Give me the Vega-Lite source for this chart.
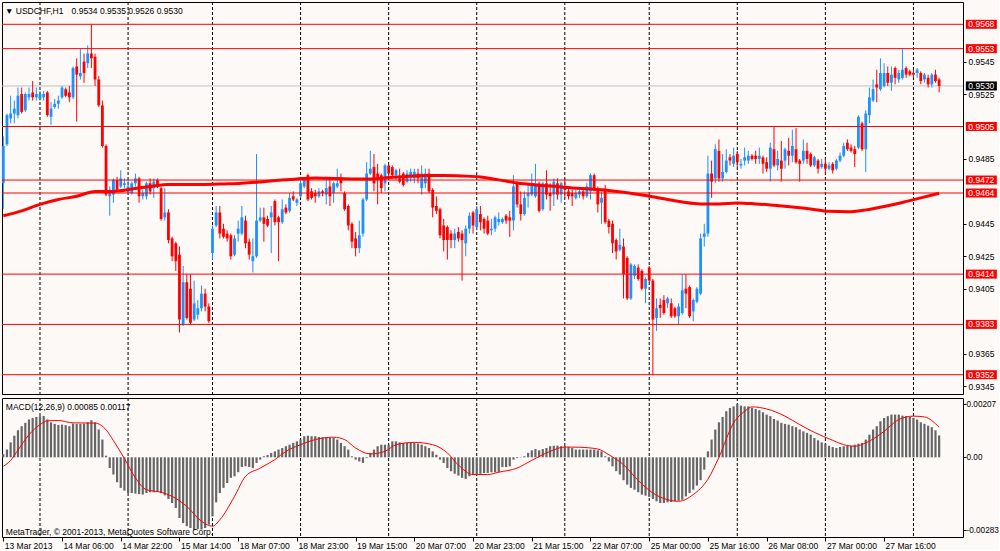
{
"$schema": "https://vega.github.io/schema/vega-lite/v6.json",
"background": "#fcf9f7",
"padding": {"left": -4, "top": 1, "right": 0, "bottom": 0},
"spacing": 2,
"resolve": {"scale": {"x": "independent", "y": "independent"}},
"config": {
  "view": {"stroke": "#000000", "strokeWidth": 1},
  "font": "Liberation Sans",
  "scale": {"continuousPadding": 0},
  "axis": {"domain": false, "grid": false, "labelFont": "Liberation Sans", "labelFontSize": 8.5, "labelColor": "#000000", "tickColor": "#000000", "tickSize": 3, "title": null}
},
"datasets": {
"c": [
{"i":0,"o":0.9470,"h":0.9499,"l":0.9454,"c":0.9493,"m":0.00012},
{"i":1,"o":0.9494,"h":0.9513,"l":0.9493,"c":0.9512,"m":0.00030},
{"i":2,"o":0.9510,"h":0.9524,"l":0.9507,"c":0.9513,"m":0.00058},
{"i":3,"o":0.9513,"h":0.9521,"l":0.9507,"c":0.9516,"m":0.00084},
{"i":4,"o":0.9512,"h":0.9529,"l":0.9510,"c":0.9524,"m":0.00105},
{"i":5,"o":0.9525,"h":0.9529,"l":0.9513,"c":0.9514,"m":0.00121},
{"i":6,"o":0.9515,"h":0.9526,"l":0.9514,"c":0.9525,"m":0.00134},
{"i":7,"o":0.9523,"h":0.9529,"l":0.9521,"c":0.9525,"m":0.00147},
{"i":8,"o":0.9526,"h":0.9533,"l":0.9521,"c":0.9523,"m":0.00153},
{"i":9,"o":0.9523,"h":0.9529,"l":0.9521,"c":0.9525,"m":0.00157},
{"i":10,"o":0.9522,"h":0.9527,"l":0.9521,"c":0.9525,"m":0.00160},
{"i":11,"o":0.9523,"h":0.9527,"l":0.9521,"c":0.9525,"m":0.00161},
{"i":12,"o":0.9526,"h":0.9527,"l":0.9511,"c":0.9512,"m":0.00147},
{"i":13,"o":0.9511,"h":0.9520,"l":0.9506,"c":0.9516,"m":0.00136},
{"i":14,"o":0.9517,"h":0.9522,"l":0.9516,"c":0.9519,"m":0.00130},
{"i":15,"o":0.9519,"h":0.9524,"l":0.9516,"c":0.9521,"m":0.00126},
{"i":16,"o":0.9523,"h":0.9530,"l":0.9522,"c":0.9529,"m":0.00127},
{"i":17,"o":0.9528,"h":0.9529,"l":0.9523,"c":0.9524,"m":0.00125},
{"i":18,"o":0.9526,"h":0.9530,"l":0.9520,"c":0.9523,"m":0.00121},
{"i":19,"o":0.9523,"h":0.9542,"l":0.9522,"c":0.9541,"m":0.00131},
{"i":20,"o":0.9542,"h":0.9547,"l":0.9508,"c":0.9537,"m":0.00130},
{"i":21,"o":0.9536,"h":0.9553,"l":0.9534,"c":0.9538,"m":0.00130},
{"i":22,"o":0.9545,"h":0.9550,"l":0.9532,"c":0.9538,"m":0.00131},
{"i":23,"o":0.9544,"h":0.9555,"l":0.9541,"c":0.9550,"m":0.00136},
{"i":24,"o":0.9550,"h":0.9568,"l":0.9541,"c":0.9547,"m":0.00144},
{"i":25,"o":0.9548,"h":0.9550,"l":0.9530,"c":0.9534,"m":0.00136},
{"i":26,"o":0.9534,"h":0.9536,"l":0.9517,"c":0.9518,"m":0.00108},
{"i":27,"o":0.9518,"h":0.9521,"l":0.9492,"c":0.9493,"m":0.00069},
{"i":28,"o":0.9493,"h":0.9494,"l":0.9462,"c":0.9463,"m":0.00006},
{"i":29,"o":0.9462,"h":0.9468,"l":0.9450,"c":0.9465,"m":-0.00042},
{"i":30,"o":0.9463,"h":0.9473,"l":0.9458,"c":0.9472,"m":-0.00067},
{"i":31,"o":0.9472,"h":0.9474,"l":0.9465,"c":0.9466,"m":-0.00097},
{"i":32,"o":0.9468,"h":0.9478,"l":0.9467,"c":0.9473,"m":-0.00119},
{"i":33,"o":0.9469,"h":0.9473,"l":0.9467,"c":0.9470,"m":-0.00130},
{"i":34,"o":0.9464,"h":0.9473,"l":0.9463,"c":0.9468,"m":-0.00139},
{"i":35,"o":0.9464,"h":0.9471,"l":0.9463,"c":0.9470,"m":-0.00139},
{"i":36,"o":0.9470,"h":0.9476,"l":0.9468,"c":0.9473,"m":-0.00141},
{"i":37,"o":0.9473,"h":0.9474,"l":0.9458,"c":0.9462,"m":-0.00143},
{"i":38,"o":0.9462,"h":0.9466,"l":0.9460,"c":0.9464,"m":-0.00145},
{"i":39,"o":0.9462,"h":0.9471,"l":0.9460,"c":0.9470,"m":-0.00139},
{"i":40,"o":0.9470,"h":0.9473,"l":0.9463,"c":0.9465,"m":-0.00136},
{"i":41,"o":0.9467,"h":0.9473,"l":0.9461,"c":0.9471,"m":-0.00136},
{"i":42,"o":0.9472,"h":0.9473,"l":0.9467,"c":0.9468,"m":-0.00135},
{"i":43,"o":0.9467,"h":0.9468,"l":0.9447,"c":0.9448,"m":-0.00139},
{"i":44,"o":0.9449,"h":0.9467,"l":0.9447,"c":0.9452,"m":-0.00148},
{"i":45,"o":0.9452,"h":0.9454,"l":0.9433,"c":0.9435,"m":-0.00162},
{"i":46,"o":0.9436,"h":0.9437,"l":0.9422,"c":0.9425,"m":-0.00178},
{"i":47,"o":0.9433,"h":0.9434,"l":0.9416,"c":0.9422,"m":-0.00197},
{"i":48,"o":0.9426,"h":0.9431,"l":0.9378,"c":0.9386,"m":-0.00236},
{"i":49,"o":0.9383,"h":0.9419,"l":0.9382,"c":0.9409,"m":-0.00256},
{"i":50,"o":0.9409,"h":0.9414,"l":0.9386,"c":0.9387,"m":-0.00268},
{"i":51,"o":0.9405,"h":0.9414,"l":0.9383,"c":0.9384,"m":-0.00275},
{"i":52,"o":0.9386,"h":0.9410,"l":0.9385,"c":0.9396,"m":-0.00283},
{"i":53,"o":0.9389,"h":0.9398,"l":0.9386,"c":0.9393,"m":-0.00279},
{"i":54,"o":0.9393,"h":0.9407,"l":0.9391,"c":0.9402,"m":-0.00281},
{"i":55,"o":0.9402,"h":0.9405,"l":0.9391,"c":0.9394,"m":-0.00275},
{"i":56,"o":0.9394,"h":0.9396,"l":0.9384,"c":0.9385,"m":-0.00262},
{"i":57,"o":0.9427,"h":0.9444,"l":0.9423,"c":0.9442,"m":-0.00230},
{"i":58,"o":0.9444,"h":0.9456,"l":0.9443,"c":0.9452,"m":-0.00175},
{"i":59,"o":0.9452,"h":0.9456,"l":0.9436,"c":0.9439,"m":-0.00139},
{"i":60,"o":0.9442,"h":0.9445,"l":0.9436,"c":0.9437,"m":-0.00119},
{"i":61,"o":0.9439,"h":0.9441,"l":0.9434,"c":0.9436,"m":-0.00100},
{"i":62,"o":0.9438,"h":0.9439,"l":0.9423,"c":0.9425,"m":-0.00080},
{"i":63,"o":0.9426,"h":0.9438,"l":0.9425,"c":0.9436,"m":-0.00074},
{"i":64,"o":0.9439,"h":0.9447,"l":0.9434,"c":0.9442,"m":-0.00058},
{"i":65,"o":0.9439,"h":0.9456,"l":0.9438,"c":0.9449,"m":-0.00038},
{"i":66,"o":0.9447,"h":0.9450,"l":0.9430,"c":0.9433,"m":-0.00035},
{"i":67,"o":0.9434,"h":0.9436,"l":0.9423,"c":0.9426,"m":-0.00038},
{"i":68,"o":0.9422,"h":0.9436,"l":0.9415,"c":0.9425,"m":-0.00042},
{"i":69,"o":0.9425,"h":0.9488,"l":0.9424,"c":0.9447,"m":-0.00022},
{"i":70,"o":0.9447,"h":0.9455,"l":0.9446,"c":0.9449,"m":-0.00009},
{"i":71,"o":0.9449,"h":0.9455,"l":0.9434,"c":0.9445,"m":0.00004},
{"i":72,"o":0.9448,"h":0.9450,"l":0.9443,"c":0.9444,"m":0.00009},
{"i":73,"o":0.9449,"h":0.9456,"l":0.9427,"c":0.9452,"m":0.00017},
{"i":74,"o":0.9459,"h":0.9460,"l":0.9444,"c":0.9446,"m":0.00023},
{"i":75,"o":0.9449,"h":0.9450,"l":0.9422,"c":0.9446,"m":0.00030},
{"i":76,"o":0.9446,"h":0.9460,"l":0.9445,"c":0.9454,"m":0.00036},
{"i":77,"o":0.9455,"h":0.9457,"l":0.9451,"c":0.9452,"m":0.00043},
{"i":78,"o":0.9453,"h":0.9464,"l":0.9452,"c":0.9461,"m":0.00049},
{"i":79,"o":0.9462,"h":0.9465,"l":0.9459,"c":0.9460,"m":0.00056},
{"i":80,"o":0.9458,"h":0.9461,"l":0.9456,"c":0.9460,"m":0.00062},
{"i":81,"o":0.9462,"h":0.9472,"l":0.9461,"c":0.9470,"m":0.00069},
{"i":82,"o":0.9468,"h":0.9474,"l":0.9467,"c":0.9473,"m":0.00082},
{"i":83,"o":0.9475,"h":0.9476,"l":0.9459,"c":0.9460,"m":0.00084},
{"i":84,"o":0.9465,"h":0.9467,"l":0.9460,"c":0.9461,"m":0.00082},
{"i":85,"o":0.9464,"h":0.9466,"l":0.9458,"c":0.9462,"m":0.00082},
{"i":86,"o":0.9462,"h":0.9467,"l":0.9461,"c":0.9465,"m":0.00079},
{"i":87,"o":0.9465,"h":0.9466,"l":0.9462,"c":0.9464,"m":0.00078},
{"i":88,"o":0.9463,"h":0.9473,"l":0.9457,"c":0.9467,"m":0.00078},
{"i":89,"o":0.9468,"h":0.9473,"l":0.9456,"c":0.9462,"m":0.00075},
{"i":90,"o":0.9464,"h":0.9471,"l":0.9458,"c":0.9470,"m":0.00075},
{"i":91,"o":0.9468,"h":0.9479,"l":0.9467,"c":0.9470,"m":0.00069},
{"i":92,"o":0.9473,"h":0.9476,"l":0.9465,"c":0.9470,"m":0.00056},
{"i":93,"o":0.9464,"h":0.9465,"l":0.9453,"c":0.9454,"m":0.00043},
{"i":94,"o":0.9456,"h":0.9457,"l":0.9441,"c":0.9444,"m":0.00030},
{"i":95,"o":0.9445,"h":0.9446,"l":0.9430,"c":0.9434,"m":0.00004},
{"i":96,"o":0.9436,"h":0.9440,"l":0.9425,"c":0.9430,"m":-0.00009},
{"i":97,"o":0.9430,"h":0.9447,"l":0.9427,"c":0.9438,"m":-0.00016},
{"i":98,"o":0.9439,"h":0.9461,"l":0.9437,"c":0.9460,"m":-0.00022},
{"i":99,"o":0.9460,"h":0.9483,"l":0.9459,"c":0.9476,"m":-0.00003},
{"i":100,"o":0.9476,"h":0.9490,"l":0.9475,"c":0.9479,"m":0.00017},
{"i":101,"o":0.9480,"h":0.9488,"l":0.9465,"c":0.9470,"m":0.00030},
{"i":102,"o":0.9476,"h":0.9482,"l":0.9457,"c":0.9473,"m":0.00043},
{"i":103,"o":0.9475,"h":0.9476,"l":0.9464,"c":0.9467,"m":0.00049},
{"i":104,"o":0.9470,"h":0.9482,"l":0.9465,"c":0.9481,"m":0.00049},
{"i":105,"o":0.9481,"h":0.9482,"l":0.9473,"c":0.9476,"m":0.00049},
{"i":106,"o":0.9480,"h":0.9481,"l":0.9473,"c":0.9475,"m":0.00062},
{"i":107,"o":0.9475,"h":0.9479,"l":0.9472,"c":0.9478,"m":0.00062},
{"i":108,"o":0.9473,"h":0.9479,"l":0.9470,"c":0.9471,"m":0.00058},
{"i":109,"o":0.9476,"h":0.9477,"l":0.9468,"c":0.9469,"m":0.00056},
{"i":110,"o":0.9471,"h":0.9478,"l":0.9470,"c":0.9476,"m":0.00056},
{"i":111,"o":0.9473,"h":0.9479,"l":0.9471,"c":0.9477,"m":0.00056},
{"i":112,"o":0.9473,"h":0.9479,"l":0.9470,"c":0.9477,"m":0.00056},
{"i":113,"o":0.9476,"h":0.9479,"l":0.9470,"c":0.9473,"m":0.00053},
{"i":114,"o":0.9467,"h":0.9481,"l":0.9463,"c":0.9476,"m":0.00049},
{"i":115,"o":0.9470,"h":0.9479,"l":0.9467,"c":0.9476,"m":0.00043},
{"i":116,"o":0.9476,"h":0.9479,"l":0.9464,"c":0.9465,"m":0.00036},
{"i":117,"o":0.9466,"h":0.9467,"l":0.9449,"c":0.9455,"m":0.00023},
{"i":118,"o":0.9456,"h":0.9462,"l":0.9451,"c":0.9453,"m":0.00010},
{"i":119,"o":0.9454,"h":0.9455,"l":0.9436,"c":0.9438,"m":-0.00009},
{"i":120,"o":0.9444,"h":0.9448,"l":0.9428,"c":0.9435,"m":-0.00022},
{"i":121,"o":0.9443,"h":0.9444,"l":0.9423,"c":0.9435,"m":-0.00042},
{"i":122,"o":0.9439,"h":0.9441,"l":0.9430,"c":0.9435,"m":-0.00054},
{"i":123,"o":0.9435,"h":0.9442,"l":0.9430,"c":0.9439,"m":-0.00064},
{"i":124,"o":0.9440,"h":0.9443,"l":0.9434,"c":0.9436,"m":-0.00071},
{"i":125,"o":0.9439,"h":0.9441,"l":0.9410,"c":0.9435,"m":-0.00080},
{"i":126,"o":0.9433,"h":0.9444,"l":0.9425,"c":0.9442,"m":-0.00084},
{"i":127,"o":0.9442,"h":0.9452,"l":0.9439,"c":0.9450,"m":-0.00074},
{"i":128,"o":0.9452,"h":0.9453,"l":0.9439,"c":0.9444,"m":-0.00067},
{"i":129,"o":0.9443,"h":0.9456,"l":0.9441,"c":0.9454,"m":-0.00065},
{"i":130,"o":0.9451,"h":0.9456,"l":0.9441,"c":0.9446,"m":-0.00064},
{"i":131,"o":0.9448,"h":0.9449,"l":0.9439,"c":0.9442,"m":-0.00061},
{"i":132,"o":0.9447,"h":0.9450,"l":0.9438,"c":0.9439,"m":-0.00061},
{"i":133,"o":0.9441,"h":0.9448,"l":0.9438,"c":0.9442,"m":-0.00058},
{"i":134,"o":0.9442,"h":0.9450,"l":0.9440,"c":0.9449,"m":-0.00058},
{"i":135,"o":0.9446,"h":0.9452,"l":0.9444,"c":0.9448,"m":-0.00057},
{"i":136,"o":0.9446,"h":0.9449,"l":0.9445,"c":0.9448,"m":-0.00038},
{"i":137,"o":0.9450,"h":0.9451,"l":0.9445,"c":0.9447,"m":-0.00038},
{"i":138,"o":0.9449,"h":0.9453,"l":0.9437,"c":0.9447,"m":-0.00035},
{"i":139,"o":0.9447,"h":0.9475,"l":0.9441,"c":0.9468,"m":-0.00009},
{"i":140,"o":0.9470,"h":0.9471,"l":0.9455,"c":0.9457,"m":-0.00003},
{"i":141,"o":0.9457,"h":0.9465,"l":0.9447,"c":0.9451,"m":0.00001},
{"i":142,"o":0.9451,"h":0.9465,"l":0.9450,"c":0.9461,"m":0.00004},
{"i":143,"o":0.9462,"h":0.9470,"l":0.9455,"c":0.9464,"m":0.00017},
{"i":144,"o":0.9463,"h":0.9476,"l":0.9462,"c":0.9470,"m":0.00027},
{"i":145,"o":0.9462,"h":0.9482,"l":0.9461,"c":0.9470,"m":0.00032},
{"i":146,"o":0.9470,"h":0.9471,"l":0.9452,"c":0.9453,"m":0.00027},
{"i":147,"o":0.9454,"h":0.9471,"l":0.9453,"c":0.9470,"m":0.00032},
{"i":148,"o":0.9470,"h":0.9478,"l":0.9460,"c":0.9463,"m":0.00036},
{"i":149,"o":0.9464,"h":0.9470,"l":0.9453,"c":0.9462,"m":0.00043},
{"i":150,"o":0.9463,"h":0.9473,"l":0.9456,"c":0.9471,"m":0.00045},
{"i":151,"o":0.9470,"h":0.9473,"l":0.9460,"c":0.9463,"m":0.00045},
{"i":152,"o":0.9463,"h":0.9471,"l":0.9458,"c":0.9470,"m":0.00043},
{"i":153,"o":0.9468,"h":0.9473,"l":0.9461,"c":0.9466,"m":0.00043},
{"i":154,"o":0.9465,"h":0.9468,"l":0.9460,"c":0.9462,"m":0.00040},
{"i":155,"o":0.9464,"h":0.9466,"l":0.9456,"c":0.9462,"m":0.00036},
{"i":156,"o":0.9461,"h":0.9466,"l":0.9460,"c":0.9464,"m":0.00030},
{"i":157,"o":0.9463,"h":0.9467,"l":0.9461,"c":0.9465,"m":0.00030},
{"i":158,"o":0.9465,"h":0.9467,"l":0.9460,"c":0.9462,"m":0.00030},
{"i":159,"o":0.9462,"h":0.9470,"l":0.9461,"c":0.9468,"m":0.00030},
{"i":160,"o":0.9465,"h":0.9476,"l":0.9460,"c":0.9475,"m":0.00030},
{"i":161,"o":0.9475,"h":0.9476,"l":0.9465,"c":0.9467,"m":0.00030},
{"i":162,"o":0.9467,"h":0.9468,"l":0.9452,"c":0.9457,"m":0.00027},
{"i":163,"o":0.9458,"h":0.9465,"l":0.9445,"c":0.9461,"m":0.00023},
{"i":164,"o":0.9466,"h":0.9469,"l":0.9445,"c":0.9446,"m":0.00004},
{"i":165,"o":0.9447,"h":0.9448,"l":0.9439,"c":0.9443,"m":-0.00016},
{"i":166,"o":0.9445,"h":0.9447,"l":0.9427,"c":0.9433,"m":-0.00035},
{"i":167,"o":0.9435,"h":0.9436,"l":0.9423,"c":0.9428,"m":-0.00054},
{"i":168,"o":0.9429,"h":0.9442,"l":0.9428,"c":0.9432,"m":-0.00067},
{"i":169,"o":0.9431,"h":0.9436,"l":0.9399,"c":0.9414,"m":-0.00089},
{"i":170,"o":0.9424,"h":0.9425,"l":0.9398,"c":0.9399,"m":-0.00106},
{"i":171,"o":0.9399,"h":0.9421,"l":0.9398,"c":0.9420,"m":-0.00119},
{"i":172,"o":0.9413,"h":0.9420,"l":0.9411,"c":0.9419,"m":-0.00126},
{"i":173,"o":0.9418,"h":0.9420,"l":0.9410,"c":0.9411,"m":-0.00136},
{"i":174,"o":0.9416,"h":0.9417,"l":0.9404,"c":0.9405,"m":-0.00145},
{"i":175,"o":0.9405,"h":0.9412,"l":0.9396,"c":0.9411,"m":-0.00149},
{"i":176,"o":0.9418,"h":0.9419,"l":0.9409,"c":0.9410,"m":-0.00154},
{"i":177,"o":0.9410,"h":0.9411,"l":0.9352,"c":0.9386,"m":-0.00162},
{"i":178,"o":0.9387,"h":0.9399,"l":0.9379,"c":0.9393,"m":-0.00171},
{"i":179,"o":0.9395,"h":0.9399,"l":0.9387,"c":0.9393,"m":-0.00178},
{"i":180,"o":0.9398,"h":0.9401,"l":0.9389,"c":0.9390,"m":-0.00178},
{"i":181,"o":0.9396,"h":0.9400,"l":0.9393,"c":0.9399,"m":-0.00175},
{"i":182,"o":0.9396,"h":0.9399,"l":0.9387,"c":0.9388,"m":-0.00174},
{"i":183,"o":0.9393,"h":0.9394,"l":0.9387,"c":0.9388,"m":-0.00171},
{"i":184,"o":0.9388,"h":0.9396,"l":0.9383,"c":0.9394,"m":-0.00169},
{"i":185,"o":0.9390,"h":0.9414,"l":0.9389,"c":0.9404,"m":-0.00165},
{"i":186,"o":0.9405,"h":0.9414,"l":0.9393,"c":0.9402,"m":-0.00152},
{"i":187,"o":0.9406,"h":0.9407,"l":0.9387,"c":0.9388,"m":-0.00139},
{"i":188,"o":0.9391,"h":0.9399,"l":0.9385,"c":0.9398,"m":-0.00126},
{"i":189,"o":0.9397,"h":0.9406,"l":0.9396,"c":0.9405,"m":-0.00110},
{"i":190,"o":0.9402,"h":0.9439,"l":0.9401,"c":0.9436,"m":-0.00089},
{"i":191,"o":0.9437,"h":0.9445,"l":0.9431,"c":0.9439,"m":-0.00048},
{"i":192,"o":0.9439,"h":0.9487,"l":0.9437,"c":0.9476,"m":0.00023},
{"i":193,"o":0.9476,"h":0.9484,"l":0.9461,"c":0.9471,"m":0.00069},
{"i":194,"o":0.9473,"h":0.9494,"l":0.9470,"c":0.9491,"m":0.00108},
{"i":195,"o":0.9490,"h":0.9497,"l":0.9471,"c":0.9473,"m":0.00136},
{"i":196,"o":0.9473,"h":0.9488,"l":0.9471,"c":0.9477,"m":0.00157},
{"i":197,"o":0.9477,"h":0.9491,"l":0.9476,"c":0.9484,"m":0.00179},
{"i":198,"o":0.9486,"h":0.9488,"l":0.9481,"c":0.9484,"m":0.00192},
{"i":199,"o":0.9482,"h":0.9492,"l":0.9480,"c":0.9487,"m":0.00198},
{"i":200,"o":0.9488,"h":0.9490,"l":0.9480,"c":0.9483,"m":0.00207},
{"i":201,"o":0.9481,"h":0.9485,"l":0.9479,"c":0.9482,"m":0.00201},
{"i":202,"o":0.9484,"h":0.9492,"l":0.9481,"c":0.9486,"m":0.00198},
{"i":203,"o":0.9484,"h":0.9490,"l":0.9482,"c":0.9487,"m":0.00198},
{"i":204,"o":0.9487,"h":0.9488,"l":0.9484,"c":0.9485,"m":0.00192},
{"i":205,"o":0.9487,"h":0.9490,"l":0.9482,"c":0.9485,"m":0.00188},
{"i":206,"o":0.9485,"h":0.9492,"l":0.9482,"c":0.9487,"m":0.00183},
{"i":207,"o":0.9486,"h":0.9487,"l":0.9476,"c":0.9482,"m":0.00175},
{"i":208,"o":0.9483,"h":0.9486,"l":0.9477,"c":0.9479,"m":0.00166},
{"i":209,"o":0.9479,"h":0.9495,"l":0.9471,"c":0.9492,"m":0.00160},
{"i":210,"o":0.9491,"h":0.9505,"l":0.9480,"c":0.9481,"m":0.00149},
{"i":211,"o":0.9481,"h":0.9490,"l":0.9478,"c":0.9485,"m":0.00143},
{"i":212,"o":0.9484,"h":0.9496,"l":0.9471,"c":0.9479,"m":0.00134},
{"i":213,"o":0.9484,"h":0.9492,"l":0.9479,"c":0.9491,"m":0.00130},
{"i":214,"o":0.9490,"h":0.9498,"l":0.9481,"c":0.9487,"m":0.00127},
{"i":215,"o":0.9487,"h":0.9503,"l":0.9483,"c":0.9493,"m":0.00121},
{"i":216,"o":0.9491,"h":0.9504,"l":0.9482,"c":0.9483,"m":0.00117},
{"i":217,"o":0.9484,"h":0.9485,"l":0.9471,"c":0.9482,"m":0.00108},
{"i":218,"o":0.9484,"h":0.9497,"l":0.9482,"c":0.9490,"m":0.00101},
{"i":219,"o":0.9490,"h":0.9495,"l":0.9482,"c":0.9485,"m":0.00095},
{"i":220,"o":0.9488,"h":0.9489,"l":0.9480,"c":0.9481,"m":0.00088},
{"i":221,"o":0.9481,"h":0.9487,"l":0.9480,"c":0.9486,"m":0.00075},
{"i":222,"o":0.9484,"h":0.9485,"l":0.9476,"c":0.9479,"m":0.00066},
{"i":223,"o":0.9480,"h":0.9485,"l":0.9479,"c":0.9482,"m":0.00058},
{"i":224,"o":0.9482,"h":0.9485,"l":0.9476,"c":0.9479,"m":0.00053},
{"i":225,"o":0.9479,"h":0.9483,"l":0.9478,"c":0.9481,"m":0.00045},
{"i":226,"o":0.9482,"h":0.9483,"l":0.9476,"c":0.9478,"m":0.00040},
{"i":227,"o":0.9479,"h":0.9485,"l":0.9478,"c":0.9484,"m":0.00036},
{"i":228,"o":0.9484,"h":0.9489,"l":0.9483,"c":0.9487,"m":0.00040},
{"i":229,"o":0.9487,"h":0.9495,"l":0.9486,"c":0.9493,"m":0.00043},
{"i":230,"o":0.9495,"h":0.9497,"l":0.9490,"c":0.9491,"m":0.00045},
{"i":231,"o":0.9492,"h":0.9494,"l":0.9489,"c":0.9490,"m":0.00045},
{"i":232,"o":0.9491,"h":0.9493,"l":0.9480,"c":0.9488,"m":0.00049},
{"i":233,"o":0.9492,"h":0.9512,"l":0.9491,"c":0.9511,"m":0.00053},
{"i":234,"o":0.9507,"h":0.9508,"l":0.9490,"c":0.9491,"m":0.00056},
{"i":235,"o":0.9491,"h":0.9515,"l":0.9477,"c":0.9513,"m":0.00069},
{"i":236,"o":0.9512,"h":0.9529,"l":0.9507,"c":0.9523,"m":0.00088},
{"i":237,"o":0.9521,"h":0.9534,"l":0.9520,"c":0.9528,"m":0.00108},
{"i":238,"o":0.9531,"h":0.9540,"l":0.9520,"c":0.9529,"m":0.00121},
{"i":239,"o":0.9528,"h":0.9547,"l":0.9527,"c":0.9538,"m":0.00140},
{"i":240,"o":0.9530,"h":0.9544,"l":0.9529,"c":0.9538,"m":0.00153},
{"i":241,"o":0.9538,"h":0.9542,"l":0.9530,"c":0.9532,"m":0.00160},
{"i":242,"o":0.9532,"h":0.9542,"l":0.9527,"c":0.9537,"m":0.00166},
{"i":243,"o":0.9541,"h":0.9542,"l":0.9531,"c":0.9535,"m":0.00166},
{"i":244,"o":0.9534,"h":0.9540,"l":0.9532,"c":0.9538,"m":0.00166},
{"i":245,"o":0.9535,"h":0.9553,"l":0.9534,"c":0.9540,"m":0.00162},
{"i":246,"o":0.9541,"h":0.9542,"l":0.9535,"c":0.9537,"m":0.00160},
{"i":247,"o":0.9539,"h":0.9540,"l":0.9536,"c":0.9537,"m":0.00157},
{"i":248,"o":0.9538,"h":0.9540,"l":0.9535,"c":0.9537,"m":0.00153},
{"i":249,"o":0.9538,"h":0.9541,"l":0.9535,"c":0.9540,"m":0.00147},
{"i":250,"o":0.9538,"h":0.9539,"l":0.9531,"c":0.9533,"m":0.00136},
{"i":251,"o":0.9534,"h":0.9538,"l":0.9532,"c":0.9537,"m":0.00130},
{"i":252,"o":0.9535,"h":0.9537,"l":0.9529,"c":0.9531,"m":0.00123},
{"i":253,"o":0.9531,"h":0.9538,"l":0.9529,"c":0.9537,"m":0.00117},
{"i":254,"o":0.9537,"h":0.9540,"l":0.9532,"c":0.9533,"m":0.00105},
{"i":255,"o":0.9534,"h":0.9535,"l":0.9526,"c":0.9530,"m":0.00085}
],
"ma": [
{"i":0,"v":0.9450},{"i":5,"v":0.9453},{"i":10,"v":0.9457},{"i":15,"v":0.9460},{"i":20,"v":0.9462},{"i":25,"v":0.9465},{"i":30,"v":0.9465},{"i":35,"v":0.94665},{"i":40,"v":0.9468},{"i":45,"v":0.94693},{"i":50,"v":0.94693},{"i":55,"v":0.94693},{"i":60,"v":0.94696},{"i":65,"v":0.9470},{"i":70,"v":0.94708},{"i":75,"v":0.94718},{"i":80,"v":0.94727},{"i":85,"v":0.94733},{"i":90,"v":0.9473},{"i":95,"v":0.94727},{"i":100,"v":0.94727},{"i":105,"v":0.94735},{"i":110,"v":0.94742},{"i":115,"v":0.94748},{"i":120,"v":0.94748},{"i":125,"v":0.94745},{"i":130,"v":0.94739},{"i":135,"v":0.94721},{"i":140,"v":0.94702},{"i":145,"v":0.9469},{"i":150,"v":0.94681},{"i":155,"v":0.94671},{"i":160,"v":0.94665},{"i":165,"v":0.94656},{"i":170,"v":0.94642},{"i":175,"v":0.94625},{"i":180,"v":0.94604},{"i":185,"v":0.94585},{"i":190,"v":0.94573},{"i":195,"v":0.94573},{"i":200,"v":0.94579},{"i":205,"v":0.94573},{"i":210,"v":0.94564},{"i":215,"v":0.94554},{"i":220,"v":0.94542},{"i":225,"v":0.94527},{"i":230,"v":0.94524},{"i":235,"v":0.94536},{"i":240,"v":0.94557},{"i":245,"v":0.94582},{"i":250,"v":0.9461},{"i":255,"v":0.94639}
],
"sig": [
{"i":0,"s":-0.00035},{"i":2,"s":-0.00012},{"i":4,"s":0.00028},{"i":7,"s":0.00088},{"i":10,"s":0.00127},{"i":12,"s":0.00142},{"i":15,"s":0.00143},{"i":19,"s":0.00134},{"i":25,"s":0.00133},{"i":28,"s":0.00107},{"i":30,"s":0.00065},{"i":33,"s":-0.00005},{"i":36,"s":-0.00080},{"i":39,"s":-0.00126},{"i":43,"s":-0.00136},{"i":46,"s":-0.00152},{"i":50,"s":-0.00191},{"i":54,"s":-0.00249},{"i":57,"s":-0.00268},{"i":59,"s":-0.00243},{"i":63,"s":-0.00152},{"i":66,"s":-0.00074},{"i":70,"s":-0.00042},{"i":74,"s":-0.00009},{"i":77,"s":0.00023},{"i":81,"s":0.00049},{"i":85,"s":0.00069},{"i":90,"s":0.00078},{"i":93,"s":0.00069},{"i":96,"s":0.00036},{"i":100,"s":0.00013},{"i":104,"s":0.00023},{"i":107,"s":0.00049},{"i":112,"s":0.00058},{"i":117,"s":0.00049},{"i":121,"s":0.00017},{"i":124,"s":-0.00030},{"i":128,"s":-0.00067},{"i":132,"s":-0.00067},{"i":135,"s":-0.00058},{"i":140,"s":-0.00042},{"i":144,"s":-0.00012},{"i":149,"s":0.00023},{"i":153,"s":0.00040},{"i":157,"s":0.00039},{"i":162,"s":0.00032},{"i":165,"s":0.00010},{"i":169,"s":-0.00029},{"i":173,"s":-0.00090},{"i":177,"s":-0.00139},{"i":181,"s":-0.00165},{"i":184,"s":-0.00171},{"i":188,"s":-0.00145},{"i":192,"s":-0.00085},{"i":195,"s":0.00000},{"i":199,"s":0.00134},{"i":202,"s":0.00179},{"i":204,"s":0.00196},{"i":208,"s":0.00188},{"i":213,"s":0.00160},{"i":217,"s":0.00127},{"i":221,"s":0.00097},{"i":226,"s":0.00066},{"i":229,"s":0.00049},{"i":232,"s":0.00043},{"i":235,"s":0.00056},{"i":240,"s":0.00101},{"i":244,"s":0.00147},{"i":248,"s":0.00160},{"i":251,"s":0.00157},{"i":255,"s":0.00117}
],
"lv": [
{"p":0.9568},{"p":0.9553},{"p":0.9505},{"p":0.9472},{"p":0.9464},{"p":0.9414},{"p":0.9383},{"p":0.9352}
],
"bid": [{"p":0.9530}],
"sep": [{"i":10},{"i":34},{"i":57},{"i":81},{"i":105},{"i":129},{"i":153},{"i":176},{"i":200},{"i":224},{"i":248}]
},
"vconcat": [
{
"width": 961,
"height": 392,
"layer": [
{
"data": {"name": "bid"},
"mark": {"type": "rule", "color": "#c0c0c0", "strokeWidth": 1},
"encoding": {
"y": {"field": "p", "type": "quantitative", "scale": {"domain": [0.93401, 0.958175], "nice": false, "zero": false},
"axis": {"orient": "right", "values": [0.9345,0.9365,0.9405,0.9425,0.9445,0.9485,0.9525,0.9545], "format": ".4f", "labelPadding": 2, "labelAlign": "left", "labelOverlap": false, "labelBound": false, "labelFlush": false}}
}
},
{
"data": {"name": "sep"},
"mark": {"type": "rule", "color": "#000000", "strokeWidth": 1, "strokeDash": [3, 2]},
"encoding": {
"x": {"field": "i", "type": "quantitative", "scale": {"domain": [-0.354, 261.5], "nice": false, "zero": false, "padding": 0}, "axis": null}
}
},
{
"data": {"name": "c"},
"mark": {"type": "rule", "strokeWidth": 1},
"encoding": {
"x": {"field": "i", "type": "quantitative"},
"y": {"field": "l", "type": "quantitative"},
"y2": {"field": "h"},
"color": {"condition": {"test": "datum.c >= datum.o", "value": "#1e90ff"}, "value": "#ff0000"}
}
},
{
"data": {"name": "c"},
"mark": {"type": "bar", "width": 2.8},
"encoding": {
"x": {"field": "i", "type": "quantitative"},
"y": {"field": "o", "type": "quantitative"},
"y2": {"field": "c"},
"color": {"condition": {"test": "datum.c >= datum.o", "value": "#1e90ff"}, "value": "#ff0000"}
}
},
{
"data": {"name": "lv"},
"mark": {"type": "rule", "color": "#ff0000", "strokeWidth": 1},
"encoding": {"y": {"field": "p", "type": "quantitative"}}
},
{
"data": {"name": "ma"},
"mark": {"type": "line", "color": "#ff0000", "strokeWidth": 3, "interpolate": "monotone"},
"encoding": {
"x": {"field": "i", "type": "quantitative"},
"y": {"field": "v", "type": "quantitative"}
}
},
{
"data": {"name": "lv"},
"mark": {"type": "point", "shape": "M-1,-0.29H1V0.29H-1Z", "filled": true, "size": 961, "opacity": 1, "color": "#ff0000", "strokeWidth": 0, "clip": false},
"encoding": {
"x": {"datum": 266.5},
"y": {"field": "p", "type": "quantitative"}
}
},
{
"data": {"name": "lv"},
"mark": {"type": "text", "color": "#ffffff", "font": "Liberation Sans", "fontSize": 8.5, "align": "center", "baseline": "middle", "clip": false},
"encoding": {
"x": {"datum": 266.5},
"y": {"field": "p", "type": "quantitative"},
"text": {"field": "p", "format": ".4f"}
}
},
{
"data": {"name": "bid"},
"mark": {"type": "point", "shape": "M-1,-0.29H1V0.29H-1Z", "filled": true, "size": 961, "opacity": 1, "color": "#000000", "strokeWidth": 0, "clip": false},
"encoding": {
"x": {"datum": 266.5},
"y": {"field": "p", "type": "quantitative"}
}
},
{
"data": {"name": "bid"},
"mark": {"type": "text", "color": "#ffffff", "font": "Liberation Sans", "fontSize": 8.5, "align": "center", "baseline": "middle", "clip": false},
"encoding": {
"x": {"datum": 266.5},
"y": {"field": "p", "type": "quantitative"},
"text": {"field": "p", "format": ".4f"}
}
},
{
"data": {"values": [{}]},
"mark": {"type": "text", "text": "▼ USDCHF,H1", "color": "#000000", "font": "Liberation Sans", "fontSize": 8.5, "align": "left", "baseline": "middle"},
"encoding": {
"x": {"datum": 0.46},
"y": {"datum": 0.95762}
}
},
{
"data": {"values": [{}]},
"mark": {"type": "text", "text": "0.9534 0.9535 0.9526 0.9530", "color": "#000000", "font": "Liberation Sans", "fontSize": 8.5, "align": "left", "baseline": "middle"},
"encoding": {
"x": {"datum": 18.6},
"y": {"datum": 0.95762}
}
}
]
},
{
"width": 961,
"height": 139,
"layer": [
{
"data": {"name": "sep"},
"mark": {"type": "rule", "color": "#000000", "strokeWidth": 1, "strokeDash": [3, 2]},
"encoding": {
"x": {"field": "i", "type": "quantitative", "scale": {"domain": [-0.354, 261.5], "nice": false, "zero": false, "padding": 0},
"axis": {"orient": "bottom", "values": [0,16,32,48,64,80,96,112,128,144,160,176,192,208,224,240], "labelExpr": "['13 Mar 2013','14 Mar 06:00','14 Mar 22:00','15 Mar 14:00','18 Mar 07:00','18 Mar 23:00','19 Mar 15:00','20 Mar 07:00','20 Mar 23:00','21 Mar 15:00','22 Mar 07:00','25 Mar 00:00','25 Mar 16:00','26 Mar 08:00','27 Mar 00:00','27 Mar 16:00'][round(datum.value/16)]", "labelAlign": "left", "labelOffset": 1, "tickSize": 4, "labelPadding": 0, "labelOverlap": false, "labelBound": false, "labelFlush": false}}
}
},
{
"data": {"name": "c"},
"mark": {"type": "bar", "width": 2.2, "color": "#666666"},
"encoding": {
"x": {"field": "i", "type": "quantitative"},
"y": {"field": "m", "type": "quantitative", "scale": {"domain": [-0.0031, 0.002306], "nice": false, "zero": false},
"axis": {"orient": "right", "values": [0.00207, 0, -0.00283], "labelExpr": "datum.value > 0.001 ? '0.00207' : (datum.value < -0.001 ? '-0.00283' : '0.00')", "labelPadding": 0, "labelFontSize": 8.2, "labelAlign": "left", "labelOverlap": false, "labelBound": false, "labelFlush": false}}
}
},
{
"data": {"name": "sig"},
"mark": {"type": "line", "color": "#ff0000", "strokeWidth": 1, "interpolate": "monotone"},
"encoding": {
"x": {"field": "i", "type": "quantitative"},
"y": {"field": "s", "type": "quantitative"}
}
},
{
"data": {"values": [{}]},
"mark": {"type": "text", "text": "MACD(12,26,9) 0.00085 0.00117", "color": "#000000", "font": "Liberation Sans", "fontSize": 8.5, "align": "left", "baseline": "middle"},
"encoding": {
"x": {"datum": 0.7},
"y": {"datum": 0.00194}
}
},
{
"data": {"values": [{}]},
"mark": {"type": "text", "text": "MetaTrader, © 2001-2013, MetaQuotes Software Corp.", "color": "#000000", "font": "Liberation Sans", "fontSize": 8.5, "align": "left", "baseline": "middle"},
"encoding": {
"x": {"datum": 0.7},
"y": {"datum": -0.00289}
}
}
]
}
]
}
